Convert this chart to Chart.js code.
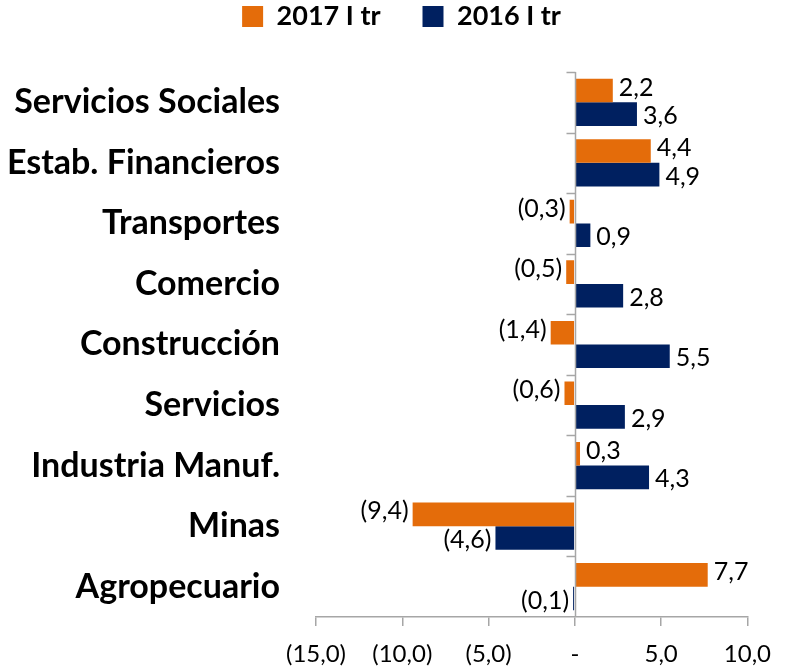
<!DOCTYPE html>
<html>
<head>
<meta charset="utf-8">
<script src="https://cdn.jsdelivr.net/npm/chart.js@4"></script>
<style>
  html, body { margin: 0; padding: 0; background: #fff; }
  #wrap { width: 785px; height: 671px; position: relative; }
</style>
</head>
<body>
<div id="wrap"><canvas id="chart"></canvas></div>
<script>
// DATA
const sectors = ['Servicios Sociales', 'Estab. Financieros', 'Transportes', 'Comercio',
  'Construcción', 'Servicios', 'Industria Manuf.', 'Minas', 'Agropecuario'];
const growth2017 = [2.2, 4.4, -0.3, -0.5, -1.4, -0.6, 0.3, -9.4, 7.7];
const growth2016 = [3.6, 4.9, 0.9, 2.8, 5.5, 2.9, 4.3, -4.6, -0.1];
const xTicks = [-15, -10, -5, 0, 5, 10];

const ORANGE = '#E46C0A';
const NAVY = '#002060';
const AXIS = '#A6A6A6';
const FONT = 'Lato, "Open Sans", sans-serif';

// 1.5 -> "1,5", -1.5 -> "(1,5)", 0 -> "-"
function fmt(v) {
  if (v === 0) return '-';
  const s = Math.abs(v).toFixed(1).replace('.', ',');
  return v < 0 ? '(' + s + ')' : s;
}

// more room under the legend, and legend nudged right
const legendSpace = {
  id: 'legendSpace',
  afterInit(chart) {
    const fit = chart.legend.fit;
    chart.legend.fit = function () {
      fit.call(this);
      this.height += 32;
    };
  },
  afterLayout(chart) {
    chart.legend.left += 26;
    chart.legend.right += 26;
  }
};

// zero line + category ticks on the left of it
const zeroAxis = {
  id: 'zeroAxis',
  afterDatasetsDraw(chart) {
    const { ctx, chartArea, scales } = chart;
    const x0 = Math.round(scales.x.getPixelForValue(0)) + 0.5;
    const step = (chartArea.bottom - chartArea.top) / sectors.length;
    ctx.save();
    ctx.strokeStyle = AXIS;
    ctx.lineWidth = 1.5;
    ctx.beginPath();
    ctx.moveTo(x0, chartArea.top);
    ctx.lineTo(x0, chartArea.bottom);
    for (let i = 0; i < sectors.length; i++) {
      const y = Math.round(chartArea.top + i * step) + 0.5;
      ctx.moveTo(x0 - 9, y);
      ctx.lineTo(x0, y);
    }
    ctx.stroke();
    ctx.restore();
  }
};

// value labels at bar ends
const barLabels = {
  id: 'barLabels',
  afterDatasetsDraw(chart) {
    const { ctx } = chart;
    ctx.save();
    ctx.font = '25px ' + FONT;
    ctx.fillStyle = '#000';
    ctx.textBaseline = 'middle';
    chart.data.datasets.forEach((ds, di) => {
      const dy = di === 0 ? -3 : 2;
      chart.getDatasetMeta(di).data.forEach((bar, i) => {
        const v = ds.data[i];
        if (v < 0) {
          ctx.textAlign = 'right';
          ctx.fillText(fmt(v), bar.x - 4, bar.y + dy);
        } else {
          ctx.textAlign = 'left';
          ctx.fillText(fmt(v), bar.x + 6, bar.y + dy);
        }
      });
    });
    ctx.restore();
  }
};

const ctx = document.getElementById('chart').getContext('2d');
new Chart(ctx, {
  type: 'bar',
  data: {
    labels: sectors,
    datasets: [
      { label: '2017 I tr', data: growth2017, backgroundColor: ORANGE },
      { label: '2016 I tr', data: growth2016, backgroundColor: NAVY }
    ]
  },
  options: {
    indexAxis: 'y',
    responsive: true,
    maintainAspectRatio: false,
    animation: false,
    layout: { padding: { top: -39, right: 34, bottom: 0, left: 0 } },
    datasets: { bar: { categoryPercentage: 0.78, barPercentage: 1 } },
    scales: {
      x: {
        min: -15,
        max: 10,
        afterBuildTicks(scale) {
          scale.ticks = xTicks.map(v => ({ value: v }));
        },
        afterFit(scale) { scale.height = 54; },
        grid: { drawOnChartArea: false, drawTicks: true, tickLength: 9, color: AXIS, lineWidth: 1.5 },
        border: { display: true, color: AXIS, width: 1.5 },
        ticks: {
          callback: v => fmt(v),
          font: { family: FONT, size: 24 },
          color: '#000',
          padding: 14,
          maxRotation: 0
        }
      },
      y: {
        grid: { display: false },
        border: { display: false },
        afterFit(scale) { scale.width = 316; },
        ticks: {
          font: { family: FONT, size: 34, weight: 'bold' },
          color: '#000',
          padding: 28
        }
      }
    },
    plugins: {
      legend: {
        position: 'top',
        labels: {
          font: { family: FONT, size: 27, weight: 'bold' },
          color: '#000',
          boxWidth: 21,
          boxHeight: 21,
          padding: 42
        }
      },
      tooltip: { enabled: false }
    }
  },
  plugins: [legendSpace, zeroAxis, barLabels]
});
</script>
</body>
</html>
